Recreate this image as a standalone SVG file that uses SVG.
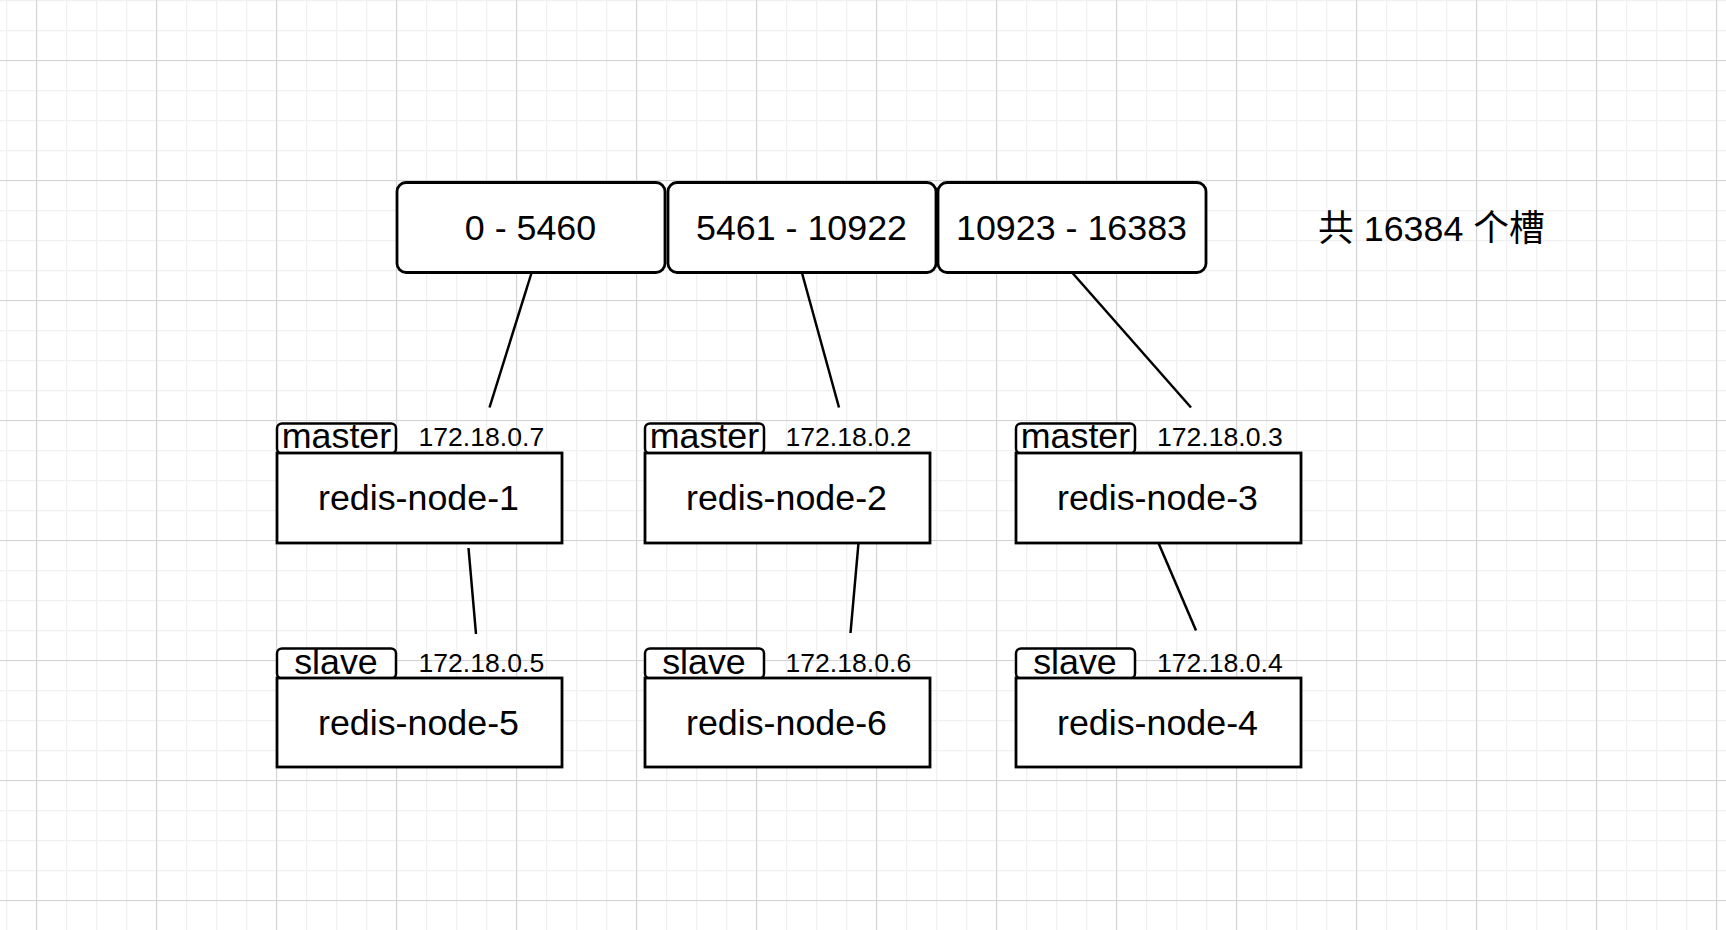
<svg xmlns="http://www.w3.org/2000/svg" width="1726" height="930" viewBox="0 0 1726 930">
  <style>
    .box{fill:#ffffff;stroke:#000000;stroke-width:2.8}
    .tag{fill:#ffffff;stroke:#000000;stroke-width:2.5}
    .big{font-family:Helvetica,"Liberation Sans",Arial,sans-serif;font-size:35.8px;fill:#000000}
    .mid{text-anchor:middle}
    .ip{font-family:Helvetica,"Liberation Sans",Arial,sans-serif;font-size:26.6px;fill:#000000}
    .cjk{font-family:"Liberation Sans","Noto Sans CJK SC",sans-serif;font-size:35.8px;fill:#000000}
    .conn line{stroke:#000000;stroke-width:2.5;fill:none}
  </style>
  <defs>
    <pattern id="minor" patternUnits="userSpaceOnUse" x="6" y="0" width="30" height="30">
      <path d="M0.5 0V30M0 0.5H30" stroke="#f0f0f0" stroke-width="1.5" fill="none"/>
    </pattern>
    <pattern id="major" patternUnits="userSpaceOnUse" x="36" y="60" width="120" height="120">
      <path d="M0.5 0V120M0 0.5H120" stroke="#d4d4d4" stroke-width="1.2" fill="none"/>
    </pattern>
  </defs>
  <rect width="1726" height="930" fill="#ffffff"/>
  <rect width="1726" height="930" fill="url(#minor)"/>
  <rect width="1726" height="930" fill="url(#major)"/>

  <g id="connectors" class="conn">
    <line x1="531.5" y1="273" x2="489.5" y2="407.5"/>
    <line x1="802" y1="273" x2="839" y2="407.5"/>
    <line x1="1072.5" y1="273" x2="1191" y2="407.5"/>
    <line x1="468.5" y1="548" x2="476" y2="634"/>
    <line x1="858.5" y1="543" x2="850.5" y2="633"/>
    <line x1="1158.5" y1="543" x2="1196" y2="630.5"/>
  </g>

  <g id="slot-range-1">
    <rect class="box" x="397" y="182.5" width="268" height="90" rx="9"/>
    <text class="big mid" x="530.5" y="240">0 - 5460</text>
  </g>
  <g id="slot-range-2">
    <rect class="box" x="668" y="182.5" width="268" height="90" rx="9"/>
    <text class="big mid" x="801.5" y="240">5461 - 10922</text>
  </g>
  <g id="slot-range-3">
    <rect class="box" x="938" y="182.5" width="268" height="90" rx="9"/>
    <text class="big mid" x="1071.5" y="240">10923 - 16383</text>
  </g>
  <g id="total-note">
    <text class="cjk" x="1318" y="240.5">共 16384 个槽</text>
  </g>

  <g id="redis-node-1">
    <rect class="tag" x="277" y="423.5" width="119" height="30" rx="5"/>
    <text class="big mid" x="336.5" y="447.5">master</text>
    <text class="ip" x="418.5" y="446">172.18.0.7</text>
    <rect class="box" x="277" y="453" width="285" height="90"/>
    <text class="big mid" x="418.5" y="509.5">redis-node-1</text>
  </g>
  <g id="redis-node-2">
    <rect class="tag" x="645" y="423.5" width="119" height="30" rx="5"/>
    <text class="big mid" x="704.5" y="447.5">master</text>
    <text class="ip" x="785.5" y="446">172.18.0.2</text>
    <rect class="box" x="645" y="453" width="285" height="90"/>
    <text class="big mid" x="786.5" y="509.5">redis-node-2</text>
  </g>
  <g id="redis-node-3">
    <rect class="tag" x="1016" y="423.5" width="119" height="30" rx="5"/>
    <text class="big mid" x="1075.5" y="447.5">master</text>
    <text class="ip" x="1157" y="446">172.18.0.3</text>
    <rect class="box" x="1016" y="453" width="285" height="90"/>
    <text class="big mid" x="1157.5" y="509.5">redis-node-3</text>
  </g>

  <g id="redis-node-5">
    <rect class="tag" x="277" y="648.5" width="119" height="30" rx="5"/>
    <text class="big mid" x="336" y="673.5">slave</text>
    <text class="ip" x="418.5" y="671.5">172.18.0.5</text>
    <rect class="box" x="277" y="678" width="285" height="89"/>
    <text class="big mid" x="418.5" y="734.5">redis-node-5</text>
  </g>
  <g id="redis-node-6">
    <rect class="tag" x="645" y="648.5" width="119" height="30" rx="5"/>
    <text class="big mid" x="704" y="673.5">slave</text>
    <text class="ip" x="785.5" y="671.5">172.18.0.6</text>
    <rect class="box" x="645" y="678" width="285" height="89"/>
    <text class="big mid" x="786.5" y="734.5">redis-node-6</text>
  </g>
  <g id="redis-node-4">
    <rect class="tag" x="1016" y="648.5" width="119" height="30" rx="5"/>
    <text class="big mid" x="1075" y="673.5">slave</text>
    <text class="ip" x="1157" y="671.5">172.18.0.4</text>
    <rect class="box" x="1016" y="678" width="285" height="89"/>
    <text class="big mid" x="1157.5" y="734.5">redis-node-4</text>
  </g>
</svg>
